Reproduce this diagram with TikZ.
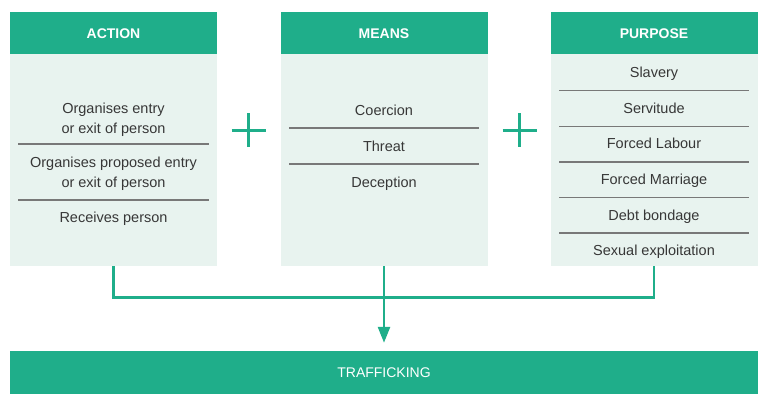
\documentclass[tikz,border=0pt]{standalone}
\usepackage{fontspec}
\setmainfont{Liberation Sans}
\usepackage{xcolor}
\usetikzlibrary{arrows.meta}
\definecolor{headgreen}{RGB}{31,174,138}
\definecolor{bodymint}{RGB}{232,243,239}
\definecolor{rulegray}{RGB}{120,120,120}
\definecolor{textgray}{RGB}{55,55,55}

\tikzset{
  head/.style={rectangle, fill=headgreen, minimum width=207pt, minimum height=42pt,
    inner sep=0pt, text height=10pt, text depth=0pt, text=white, font=\fontsize{14}{16}\selectfont\bfseries},
  body/.style={rectangle, fill=bodymint, minimum width=207pt, minimum height=212pt, inner sep=0pt},
  item/.style={inner sep=0pt, text height=10.4pt, text depth=0pt, text=textgray,
    font=\fontsize{14.5}{20}\selectfont},
  itemtwo/.style={inner sep=0pt, align=center, text=textgray, font=\fontsize{14.5}{20}\selectfont},
  divider/.style={rulegray, line width=1.1pt},
  plus/.style={headgreen, line width=3pt},
  flow/.style={headgreen, line width=2.6pt},
}

\begin{document}
\begin{tikzpicture}[x=1pt, y=-1pt, >={Triangle[length=16pt,width=12pt]}]
\useasboundingbox (0,0) rectangle (768,404);
% columns
\node[body] (actbody) at (113.5,160) {};
\node[head] (acthead) at (113.5,33.5) {ACTION};
\node[body] (meanbody) at (384,160) {};
\node[head] (meanhead) at (384,33.5) {MEANS};
\node[body] (purpbody) at (654,160) {};
\node[head] (purphead) at (654,33.5) {PURPOSE};
% action items
\node[itemtwo] (act1) at (113.5,119.5) {Organises entry\\or exit of person};
\node[itemtwo] (act2) at (113.5,174) {Organises proposed entry\\or exit of person};
\node[item] (act3) at (113.5,217) {Receives person};
\draw[divider] (18,144) -- (209,144);
\draw[divider] (18,200) -- (209,200);
% means items
\node[item] (mean1) at (384,110) {Coercion};
\node[item] (mean2) at (384,146) {Threat};
\node[item] (mean3) at (384,182) {Deception};
\draw[divider] (289,128) -- (479,128);
\draw[divider] (289,164) -- (479,164);
% purpose items
\node[item] (purp1) at (654,72) {Slavery};
\node[item] (purp2) at (654,108) {Servitude};
\node[item] (purp3) at (654,143.5) {Forced Labour};
\node[item] (purp4) at (654,179) {Forced Marriage};
\node[item] (purp5) at (654,215) {Debt bondage};
\node[item] (purp6) at (654,250) {Sexual exploitation};
\foreach \ry in {90.7,126.3,162,197.5,233}
  \draw[divider] (559,\ry) -- (749,\ry);
% plus signs
\foreach \px in {248.5,519.5}
  \draw[plus] (\px-17,130) -- (\px+17,130) (\px,113) -- (\px,147);
% result
\node[head, minimum width=748pt, minimum height=43pt, font=\fontsize{14}{16}\selectfont] (traff) at (384,372.5) {TRAFFICKING};
\coordinate (join) at (384,297.7);
\draw[flow] (actbody.south) |- (join) -| (purpbody.south);
\draw[flow, ->, shorten >=8pt] (meanbody.south) -- (traff.north);
\end{tikzpicture}
\end{document}
